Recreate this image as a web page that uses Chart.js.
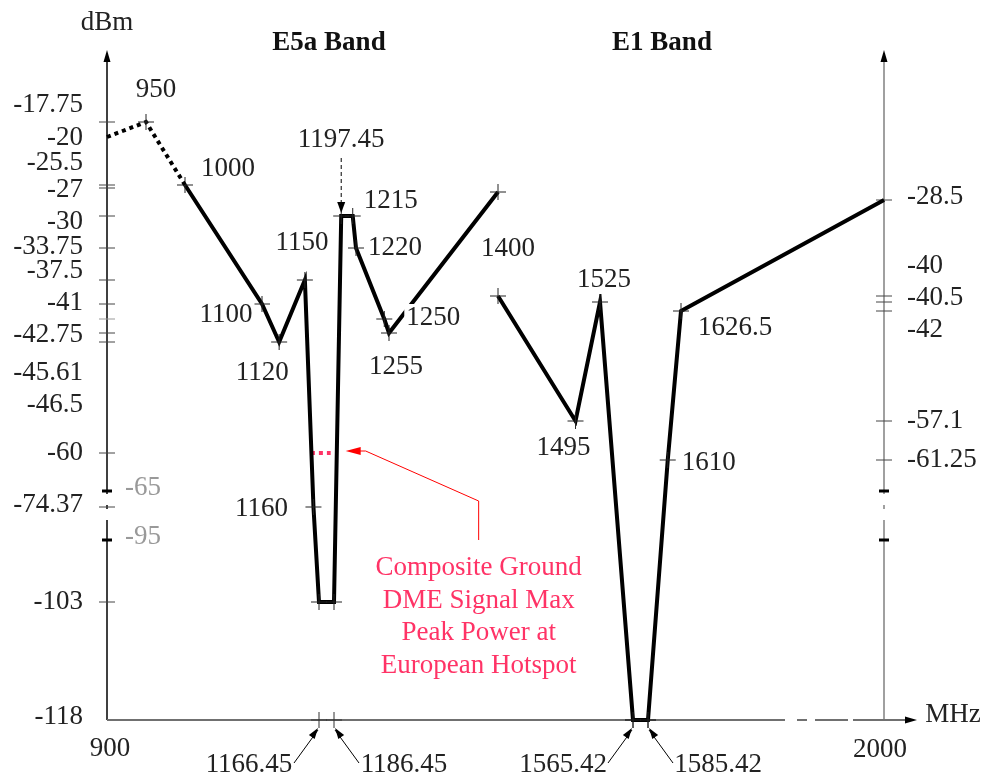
<!DOCTYPE html>
<html>
<head>
<meta charset="utf-8">
<script src="https://cdn.jsdelivr.net/npm/chart.js@4.4.0/dist/chart.umd.min.js"></script>
<style>
    body { margin: 0; background: #fff; }
    #wrap { width: 986px; height: 783px; }
</style>
</head>
<body>
<div id="wrap"><canvas id="maskChart"></canvas></div>
<script>
// frequencies in MHz, levels in dBm
const leadFreq = [900, 950, 1000];
const leadLevel = [-20, -17.75, -25.5];

const e5aFreq = [1000, 1100, 1120, 1150, 1160, 1166.45, 1186.45, 1197.45, 1215, 1220, 1250, 1255, 1400];
const e5aLevel = [-25.5, -41, -42.75, -37.5, -74.37, -103, -103, -30, -30, -33.75, -42.25, -42.5, -27.5];

const e1Freq = [1400, 1495, 1525, 1565.42, 1585.42, 1610, 1626.5, 2000];
const e1Level = [-40, -57.1, -40.5, -118, -118, -61.25, -42, -28.5];

const dmeFreq = [1157, 1182];
const dmeLevel = [-60, -60];

// tick labels
const leftTickLabels = [-17.75, -20, -25.5, -27, -30, -33.75, -37.5, -41, -42.75, -45.61, -46.5, -60, -74.37, -103, -118];
const rightTickLabels = [-28.5, -40, -40.5, -42, -57.1, -61.25];
const breakTickLabels = [-65, -95];
const xTickLabels = [900, 2000];
const xArrowLabels = [1166.45, 1186.45, 1565.42, 1585.42];

// tick marks (no label of their own)
const leftMarks = [-17.75, -25.5, -27, -30, -33.75, -37.5, -41, -42.25, -42.5, -42.75, -60, -74.37, -103];
const rightMarks = [-28.5, -40, -40.5, -42, -57.1, -61.25];

// schematic (non uniform) axes: [value, distance along axis]
const axisKnots = {
    x: [[900, 0], [1000, 78], [1100, 155], [1166.45, 212], [1186.45, 227], [1220, 249], [1255, 282],
        [1400, 391], [1565.42, 526], [1585.42, 541], [1626.5, 574], [2000, 777]],
    y: [[-118, 0], [-103, 118], [-95, 180], [-74.37, 213], [-65, 229], [-61.25, 260], [-60, 267],
        [-57.1, 299], [-42.75, 378], [-42.5, 387], [-42.25, 401], [-42, 409], [-41, 416], [-40.5, 418],
        [-40, 424], [-37.5, 440], [-33.75, 472], [-30, 504], [-28.5, 520], [-27, 532], [-25.5, 535],
        [-20, 583], [-17.75, 598], [-10, 670]]
};

class KnotScale extends Chart.LinearScale {
    static id = 'knot';
    static defaults = {};

    getPixelForValue(value) {
        const k = axisKnots[this.id];
        const span = k[k.length - 1][1];
        let pos = k[k.length - 1][1];
        if (value <= k[0][0]) {
            pos = k[0][1];
        } else {
            for (let i = 1; i < k.length; i++) {
                if (value <= k[i][0]) {
                    const t = (value - k[i - 1][0]) / (k[i][0] - k[i - 1][0]);
                    pos = k[i - 1][1] + t * (k[i][1] - k[i - 1][1]);
                    break;
                }
            }
        }
        return this.getPixelForDecimal(pos / span);
    }

    getValueForPixel(pixel) {
        const k = axisKnots[this.id];
        const pos = this.getDecimalForPixel(pixel) * k[k.length - 1][1];
        for (let i = 1; i < k.length; i++) {
            if (pos <= k[i][1]) {
                const t = (pos - k[i - 1][1]) / (k[i][1] - k[i - 1][1]);
                return k[i - 1][0] + t * (k[i][0] - k[i - 1][0]);
            }
        }
        return k[k.length - 1][0];
    }
}
Chart.register(KnotScale);

const FONT = '27px "Liberation Serif", "Times New Roman", serif';
const BOLD = 'bold 27px "Liberation Serif", "Times New Roman", serif';
const INK = '#222';
const PINK = '#ff3366';

function toPoints(xs, ys) {
    return xs.map((x, i) => ({ x: x, y: ys[i] }));
}

function strokePath(ctx, pts, color, width, dash) {
    ctx.save();
    ctx.strokeStyle = color;
    ctx.lineWidth = width;
    ctx.setLineDash(dash || []);
    ctx.beginPath();
    ctx.moveTo(pts[0][0], pts[0][1]);
    for (let i = 1; i < pts.length; i++) ctx.lineTo(pts[i][0], pts[i][1]);
    ctx.stroke();
    ctx.restore();
}

function arrowHead(ctx, fx, fy, tx, ty, len, half, color) {
    const a = Math.atan2(ty - fy, tx - fx);
    ctx.save();
    ctx.fillStyle = color;
    ctx.beginPath();
    ctx.moveTo(tx, ty);
    ctx.lineTo(tx - len * Math.cos(a) + half * Math.sin(a), ty - len * Math.sin(a) - half * Math.cos(a));
    ctx.lineTo(tx - len * Math.cos(a) - half * Math.sin(a), ty - len * Math.sin(a) + half * Math.cos(a));
    ctx.closePath();
    ctx.fill();
    ctx.restore();
}

function label(ctx, str, x, y, align, color, font, backdrop) {
    ctx.save();
    ctx.font = font || FONT;
    ctx.textAlign = align || 'center';
    ctx.textBaseline = 'middle';
    if (backdrop) {
        const w = ctx.measureText(str).width;
        const left = align === 'left' ? x : align === 'right' ? x - w : x - w / 2;
        ctx.fillStyle = '#fff';
        ctx.fillRect(left - 2, y - 14, w + 4, 28);
    }
    ctx.fillStyle = color || INK;
    ctx.fillText(str, x, y);
    ctx.restore();
}

function cross(ctx, x, y, r, color) {
    strokePath(ctx, [[x - r, y], [x + r, y]], color, 1);
    strokePath(ctx, [[x, y - r], [x, y + r]], color, 1);
}

// label offsets from their point
const labelOffsets = {
    '950': [10, -32], '1000': [43, -16], '1100': [-36, 11], '1120': [-17, 31], '1150': [-3, -37],
    '1160': [-52, 2], '1215': [38, -15], '1220': [39, 0], '1250': [49, -1], '1255': [7, 34],
    '1400': [10, 57], '1495': [-12, 27], '1525': [4, -22], '1610': [41, 3], '1626.5': [54, 17]
};
const leftLabelShift = [-17, 1, -22, 2, 6, -1, -9, -1, -7, 15, 42, 0, -2, 0, -3];
const rightLabelShift = [-3, -30, -4, 19, 0, 0];

const decor = {
    id: 'decor',
    beforeDatasetsDraw(chart) {
        const ctx = chart.ctx;
        const xs = chart.scales.x;
        const ys = chart.scales.y;
        const x0 = xs.getPixelForValue(900);
        const x1 = xs.getPixelForValue(2000);
        const yBot = ys.getPixelForValue(-118);
        const yTop = chart.chartArea.top;
        const gapA = ys.getPixelForValue(-65) + 3;
        const gapB = ys.getPixelForValue(-95) - 20;
        const yMid = ys.getPixelForValue(-74.37);

        // left axis (black)
        strokePath(ctx, [[x0, yBot], [x0, gapB]], '#000', 1.5);
        strokePath(ctx, [[x0, gapA], [x0, yTop + 10]], '#000', 1.5);
        strokePath(ctx, [[x0, yMid - 2], [x0, yMid + 2]], '#000', 1.5);
        arrowHead(ctx, x0, yTop + 20, x0, yTop, 12, 3.5, '#000');

        // right axis (grey)
        strokePath(ctx, [[x1, yBot], [x1, gapB]], '#808080', 1.5);
        strokePath(ctx, [[x1, gapA], [x1, yTop + 10]], '#808080', 1.5);
        strokePath(ctx, [[x1, yMid - 2], [x1, yMid + 2]], '#808080', 1.5);
        arrowHead(ctx, x1, yTop + 20, x1, yTop, 12, 3.5, '#000');

        // x axis with dash-dot break
        const gx = '#707070';
        strokePath(ctx, [[x0, yBot], [x1 - 99, yBot]], gx, 2);
        strokePath(ctx, [[x1 - 87, yBot], [x1 - 77, yBot]], gx, 2);
        strokePath(ctx, [[x1 - 69, yBot], [x1 - 36, yBot]], gx, 2);
        strokePath(ctx, [[x1 - 31, yBot], [x1 + 22, yBot]], gx, 2);
        arrowHead(ctx, x1, yBot, x1 + 33, yBot, 12, 3.5, '#000');

        // tick marks
        leftMarks.forEach(v => {
            const y = ys.getPixelForValue(v);
            strokePath(ctx, [[x0 - 8, y], [x0 + 8, y]], v === -42.25 ? '#999' : '#444', 1);
        });
        rightMarks.forEach(v => {
            const y = ys.getPixelForValue(v);
            strokePath(ctx, [[x1 - 8, y], [x1 + 8, y]], '#444', 1);
        });
        breakTickLabels.forEach(v => {
            const y = ys.getPixelForValue(v);
            strokePath(ctx, [[x0 - 5, y], [x0 + 5, y]], '#000', 3);
            strokePath(ctx, [[x1 - 5, y], [x1 + 5, y]], '#000', 3);
        });
        xArrowLabels.forEach(v => cross(ctx, xs.getPixelForValue(v), yBot, 8, '#333'));
    },
    afterDatasetsDraw(chart) {
        const ctx = chart.ctx;
        const xs = chart.scales.x;
        const ys = chart.scales.y;
        const x0 = xs.getPixelForValue(900);
        const x1 = xs.getPixelForValue(2000);
        const yBot = ys.getPixelForValue(-118);

        // point labels
        const done = new Set();
        chart.data.datasets.forEach(ds => {
            ds.data.forEach(p => {
                const key = String(p.x);
                const off = labelOffsets[key];
                if (!off || done.has(key)) return;
                done.add(key);
                label(ctx, key, xs.getPixelForValue(p.x) + off[0], ys.getPixelForValue(p.y) + off[1], 'center', INK, FONT, true);
            });
        });

        // 1197.45 dashed pointer
        const px = xs.getPixelForValue(1197.45);
        const py = ys.getPixelForValue(-30);
        label(ctx, '1197.45', px, py - 76, 'center');
        strokePath(ctx, [[px, py - 58], [px, py - 12]], '#000', 1, [4, 3]);
        arrowHead(ctx, px, py - 20, px, py - 3, 11, 4, '#000');

        // axis labels
        leftTickLabels.forEach((v, i) => {
            label(ctx, String(v), x0 - 24, ys.getPixelForValue(v) + leftLabelShift[i], 'right');
        });
        rightTickLabels.forEach((v, i) => {
            label(ctx, String(v), x1 + 23, ys.getPixelForValue(v) + rightLabelShift[i], 'left');
        });
        breakTickLabels.forEach(v => {
            label(ctx, String(v), x0 + 18, ys.getPixelForValue(v) - 3, 'left', '#999');
        });
        label(ctx, String(xTickLabels[0]), x0 + 3, yBot + 29, 'center');
        label(ctx, String(xTickLabels[1]), x1 - 4, yBot + 30, 'center');
        label(ctx, 'dBm', x0, 23, 'center');
        label(ctx, 'MHz', x1 + 69, yBot - 5, 'center');

        // frequency pointers under the axis
        xArrowLabels.forEach((v, i) => {
            const side = i % 2 === 0 ? -1 : 1;
            const tx = xs.getPixelForValue(v) + side;
            strokePath(ctx, [[tx + side * 24, yBot + 43], [tx, yBot + 10]], '#000', 1);
            arrowHead(ctx, tx + side * 24, yBot + 43, tx, yBot + 8, 11, 3.5, '#000');
            label(ctx, String(v), tx + side * 69, yBot + 45, 'center');
        });

        // band titles
        label(ctx, 'E5a Band', 329, 43, 'center', '#111', BOLD);
        label(ctx, 'E1 Band', 662, 43, 'center', '#111', BOLD);

        // DME annotation
        const ex = xs.getPixelForValue(dmeFreq[1]);
        const ey = ys.getPixelForValue(dmeLevel[1]);
        strokePath(ctx, [[ex + 148, ey + 87], [ex + 148, ey + 48], [ex + 35, ey - 2], [ex + 25, ey - 2]], '#ff0000', 1);
        arrowHead(ctx, ex + 35, ey - 2, ex + 15, ey - 2, 15, 4, '#ff0000');
        ['Composite Ground', 'DME Signal Max', 'Peak Power at', 'European Hotspot'].forEach((t, i) => {
            label(ctx, t, ex + 148, ey + 115 + i * 32.5, 'center', PINK);
        });
    }
};

const pointStyle = {
    pointStyle: 'cross',
    pointRadius: 8,
    pointBorderWidth: 1,
    pointBorderColor: '#222',
    pointBackgroundColor: 'rgba(0,0,0,0)'
};

const ctx = document.getElementById('maskChart').getContext('2d');
new Chart(ctx, {
    type: 'line',
    data: {
        datasets: [
            Object.assign({}, pointStyle, {
                label: 'Out of band',
                data: toPoints(leadFreq, leadLevel),
                borderColor: '#000',
                borderWidth: 4,
                borderDash: [4, 4],
                pointRadius: [0, 8, 0],
                clip: false
            }),
            Object.assign({}, pointStyle, {
                label: 'E5a mask',
                data: toPoints(e5aFreq, e5aLevel),
                borderColor: '#000',
                borderWidth: 4,
                clip: false
            }),
            Object.assign({}, pointStyle, {
                label: 'E1 mask',
                data: toPoints(e1Freq, e1Level),
                borderColor: '#000',
                borderWidth: 4,
                pointRadius: [8, 8, 8, 8, 8, 8, 8, 0],
                clip: false
            }),
            {
                label: 'DME peak',
                data: toPoints(dmeFreq, dmeLevel),
                borderColor: PINK,
                borderWidth: 4,
                borderDash: [4, 4],
                pointRadius: 0,
                clip: false
            }
        ]
    },
    options: {
        animation: false,
        responsive: true,
        maintainAspectRatio: false,
        devicePixelRatio: 1,
        events: [],
        layout: { padding: { left: 107, right: 102, top: 50, bottom: 63 } },
        elements: {
            line: { tension: 0, borderJoinStyle: 'miter', borderCapStyle: 'butt' }
        },
        plugins: {
            legend: { display: false },
            tooltip: { enabled: false }
        },
        scales: {
            x: { type: 'knot', min: 900, max: 2000, display: false },
            y: { type: 'knot', min: -118, max: -10, display: false }
        }
    },
    plugins: [decor]
});
</script>
</body>
</html>
